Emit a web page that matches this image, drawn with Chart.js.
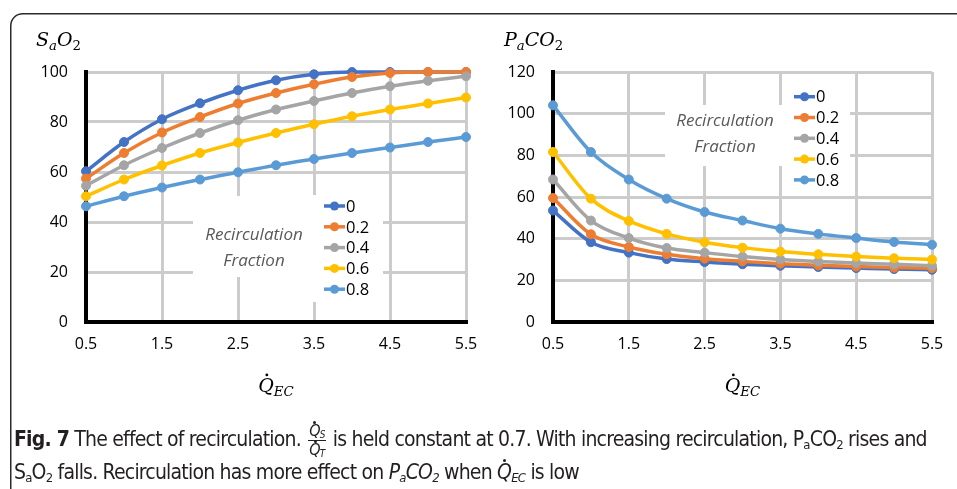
<!DOCTYPE html>
<html>
<head>
<meta charset="utf-8">
<script src="https://cdn.jsdelivr.net/npm/chart.js@4.4.1/dist/chart.umd.min.js"></script>
<style>
  body { margin: 0; background: #fff; width: 957px; height: 489px; overflow: hidden; position: relative; }
  canvas { position: absolute; top: 0; }
  .cap { position: absolute; left: 14px; white-space: nowrap;
         font-family: "Liberation Sans Narrow", "DejaVu Sans Condensed", sans-serif;
         font-size: 21px; line-height: 21px; color: #231f20; }
  .cap sub { font-size: 0.62em; vertical-align: -0.25em; line-height: 0; }
  .qd { position: relative; display: inline-block; }
  .qd::before { content: ""; position: absolute; left: 50%; top: -0.12em; width: 3px; height: 3px;
                margin-left: -1px; border-radius: 50%; background: currentColor; }
  .frac { display: inline-block; vertical-align: -0.55em; text-align: center; font-style: italic;
          font-size: 16px; line-height: 16px; margin: 0 2px; }
  .frac .num { display: block; border-bottom: 1px solid #231f20; padding: 0 1px 1px; }
  .frac .den { display: block; padding-top: 1px; }
</style>
</head>
<body>
<canvas id="c1" width="480" height="489" style="left:0"></canvas>
<canvas id="c2" width="477" height="489" style="left:480px"></canvas>
<div class="cap" id="l1" style="top:423px"><b>Fig. 7</b> The effect of recirculation. <span class="frac"><span class="num"><span class="qd">Q</span><sub>S</sub></span><span class="den"><span class="qd">Q</span><sub>T</sub></span></span> is held constant at 0.7. With increasing recirculation, P<sub>a</sub>CO<sub>2</sub> rises and</div>
<div class="cap" id="l2" style="top:462px">S<sub>a</sub>O<sub>2</sub> falls. Recirculation has more effect on <i>P<sub>a</sub>CO<sub>2</sub></i> when <i><span class="qd">Q</span><sub>EC</sub></i> is low</div>
<script>
// Qdot_EC values (x axis)
const flows = [0.5, 1, 1.5, 2, 2.5, 3, 3.5, 4, 4.5, 5, 5.5];
const xTicks = [0.5, 1.5, 2.5, 3.5, 4.5, 5.5];
const fractions = ["0", "0.2", "0.4", "0.6", "0.8"];

// SaO2 (%)
const sao2_0 = [60.3, 72, 81.1, 87.5, 92.7, 96.7, 99.1, 100, 100, 100, 100];
const sao2_2 = [57.4, 67.6, 75.8, 82, 87.4, 91.6, 95.1, 98, 99.6, 100, 100];
const sao2_4 = [54.5, 62.7, 69.6, 75.6, 80.7, 85, 88.4, 91.6, 94.3, 96.5, 98.3];
const sao2_6 = [50.3, 57, 62.6, 67.6, 71.8, 75.6, 79.1, 82.3, 85, 87.4, 89.8];
const sao2_8 = [46.3, 50.3, 53.8, 57, 59.9, 62.7, 65.2, 67.6, 69.8, 72, 74];
const sao2Ticks = [0, 20, 40, 60, 80, 100];

// PaCO2
const paco2_0 = [53.5, 38.3, 33.3, 30.2, 28.8, 27.7, 27, 26.4, 25.9, 25.4, 25.1];
const paco2_2 = [59.5, 42.1, 36, 32.5, 30.4, 29.1, 28, 27.2, 26.6, 26.1, 25.8];
const paco2_4 = [68.4, 48.7, 40.3, 35.5, 33.3, 31.4, 30, 29, 28.3, 27.7, 27];
const paco2_6 = [81.6, 59.2, 48.5, 42.3, 38.3, 35.7, 33.8, 32.5, 31.4, 30.6, 30];
const paco2_8 = [104, 81.6, 68.4, 59.2, 52.8, 48.7, 44.8, 42.3, 40.3, 38.4, 37.1];
const paco2Ticks = [0, 20, 40, 60, 80, 100, 120];

const colors = ["#4472C4", "#ED7D31", "#A5A5A5", "#FFC000", "#5B9BD5"];
const GRID = "#cccccc";
const MATH = '"DejaVu Serif", serif';
const SANS = '"Open Sans", sans-serif';

/* math-ish text: italic letters, subscripts, optional dot accent */
function drawMath(ctx, parts, x, base, size) {
  parts.forEach(p => {
    const sz = p.sub ? size * 0.7 : size;
    ctx.font = (p.it ? "italic " : "") + sz + "px " + MATH;
    const y = p.sub ? base + size * 0.22 : base;
    ctx.fillText(p.t, x, y);
    const w = ctx.measureText(p.t).width;
    if (p.dot) {
      ctx.beginPath();
      ctx.arc(x + w * 0.55, base - size * 0.9, 1.4, 0, Math.PI * 2);
      ctx.fill();
    }
    x += w;
  });
}
function mathWidth(ctx, parts, size) {
  let w = 0;
  parts.forEach(p => {
    ctx.font = (p.it ? "italic " : "") + (p.sub ? size * 0.7 : size) + "px " + MATH;
    w += ctx.measureText(p.t).width;
  });
  return w;
}

const qec = [{ t: "Q", it: true, dot: true }, { t: "EC", it: true, sub: true }];

const overlay = {
  id: "overlay",
  beforeDraw(chart, args, o) {
    // the rounded frame round the figure
    const ctx = chart.ctx;
    ctx.save();
    ctx.strokeStyle = "#2b2b2b";
    ctx.lineWidth = 1.5;
    ctx.beginPath();
    if (o.frameLeft) {
      ctx.moveTo(10.75, chart.height + 2);
      ctx.lineTo(10.75, 25.75);
      ctx.arcTo(10.75, 13.75, 22.75, 13.75, 12);
    } else {
      ctx.moveTo(0, 13.75);
    }
    ctx.lineTo(chart.width, 13.75);
    ctx.stroke();
    ctx.restore();
  },
  afterDraw(chart, args, o) {
    const ctx = chart.ctx, ca = chart.chartArea;
    ctx.save();
    ctx.fillStyle = "#000";
    ctx.textBaseline = "alphabetic";
    ctx.textAlign = "left";
    drawMath(ctx, o.title, o.titleX, 46, 19);
    const w = mathWidth(ctx, qec, 19);
    drawMath(ctx, qec, (ca.left + ca.right) / 2 - w / 2, 392, 19);

    ctx.fillStyle = "#fff";
    ctx.fillRect(o.note.x0, o.note.y0, o.note.x1 - o.note.x0, o.note.y1 - o.note.y0);
    ctx.fillRect(o.leg.x0, o.leg.y0, o.leg.x1 - o.leg.x0, o.leg.y1 - o.leg.y0);

    ctx.fillStyle = "#595959";
    ctx.font = "italic 17px " + SANS;
    ctx.textAlign = "center";
    ctx.textBaseline = "middle";
    ctx.fillText("Recirculation", o.note.cx, o.note.cy);
    ctx.fillText("Fraction", o.note.cx, o.note.cy + 26);

    ctx.textAlign = "left";
    ctx.font = "16.5px " + SANS;
    chart.data.datasets.forEach((ds, i) => {
      const y = o.leg.ry + i * 20.8;
      ctx.strokeStyle = ds.borderColor;
      ctx.lineWidth = 3.5;
      ctx.beginPath();
      ctx.moveTo(o.leg.lx, y);
      ctx.lineTo(o.leg.lx + 21, y);
      ctx.stroke();
      ctx.fillStyle = ds.borderColor;
      ctx.beginPath();
      ctx.arc(o.leg.lx + 10.5, y, 4.5, 0, Math.PI * 2);
      ctx.fill();
      ctx.fillStyle = "#000";
      ctx.fillText(ds.label, o.leg.lx + 22, y + 1);
    });
    ctx.restore();
  }
};

function makeChart(id, series, yTicks, cfg) {
  return new Chart(document.getElementById(id), {
    type: "line",
    data: {
      datasets: series.map((vals, i) => ({
        label: fractions[i],
        data: flows.map((f, k) => ({ x: f, y: vals[k] })),
        borderColor: colors[i],
        backgroundColor: colors[i],
        pointBackgroundColor: colors[i],
        pointBorderColor: colors[i],
        borderWidth: 3.5,
        pointRadius: 4.5,
        pointBorderWidth: 1,
        cubicInterpolationMode: "monotone",
        clip: false,
        order: 4 - i
      }))
    },
    options: {
      responsive: false,
      animation: false,
      layout: { padding: { left: cfg.padLeft, right: cfg.padRight, top: 72, bottom: 89 } },
      plugins: { legend: { display: false }, tooltip: { enabled: false }, overlay: cfg.overlay },
      scales: {
        x: {
          type: "linear", min: 0.5, max: 5.5,
          afterBuildTicks: s => { s.ticks = xTicks.map(v => ({ value: v })); },
          afterFit: s => { s.height = 78; s.paddingRight = 0; },
          grid: { color: GRID, lineWidth: 3, drawTicks: false },
          border: { color: "#000", width: 4 },
          ticks: { color: "#000", font: { family: "Open Sans", size: 16 }, padding: 13, maxRotation: 0,
                   callback: v => String(v) }
        },
        y: {
          min: 0, max: yTicks[yTicks.length - 1],
          afterBuildTicks: s => { s.ticks = yTicks.map(v => ({ value: v })); },
          afterFit: s => { s.width = 50; },
          grid: { color: GRID, lineWidth: 3, drawTicks: false },
          border: { color: "#000", width: 4 },
          ticks: { color: "#000", font: { family: "Open Sans", size: 16 }, padding: 18 }
        }
      }
    },
    plugins: [overlay]
  });
}

makeChart("c1", [sao2_0, sao2_2, sao2_4, sao2_6, sao2_8], sao2Ticks, {
  padLeft: 36, padRight: 14,
  overlay: {
    frameLeft: true,
    title: [{ t: "S", it: true }, { t: "a", it: true, sub: true }, { t: "O", it: true }, { t: "2", sub: true }],
    titleX: 36,
    note: { x0: 193, x1: 310, y0: 196, y1: 277, cx: 254, cy: 235 },
    leg: { x0: 310, x1: 383, y0: 195, y1: 302, lx: 324, ry: 206 }
  }
});

makeChart("c2", [paco2_0, paco2_2, paco2_4, paco2_6, paco2_8], paco2Ticks, {
  padLeft: 23, padRight: 25,
  overlay: {
    frameLeft: false,
    title: [{ t: "P", it: true }, { t: "a", it: true, sub: true }, { t: "C", it: true }, { t: "O", it: true }, { t: "2", sub: true }],
    titleX: 24,
    note: { x0: 185, x1: 303, y0: 105, y1: 166, cx: 245, cy: 121 },
    leg: { x0: 303, x1: 370, y0: 83, y1: 190, lx: 314, ry: 96.7 }
  }
});

// fit the first caption line to the original width with letter spacing
const l1 = document.getElementById("l1"), l2 = document.getElementById("l2");
const ls = (911 - l1.getBoundingClientRect().width) / l1.textContent.length;
l1.style.letterSpacing = l2.style.letterSpacing = ls.toFixed(3) + "px";
</script>
</body>
</html>
